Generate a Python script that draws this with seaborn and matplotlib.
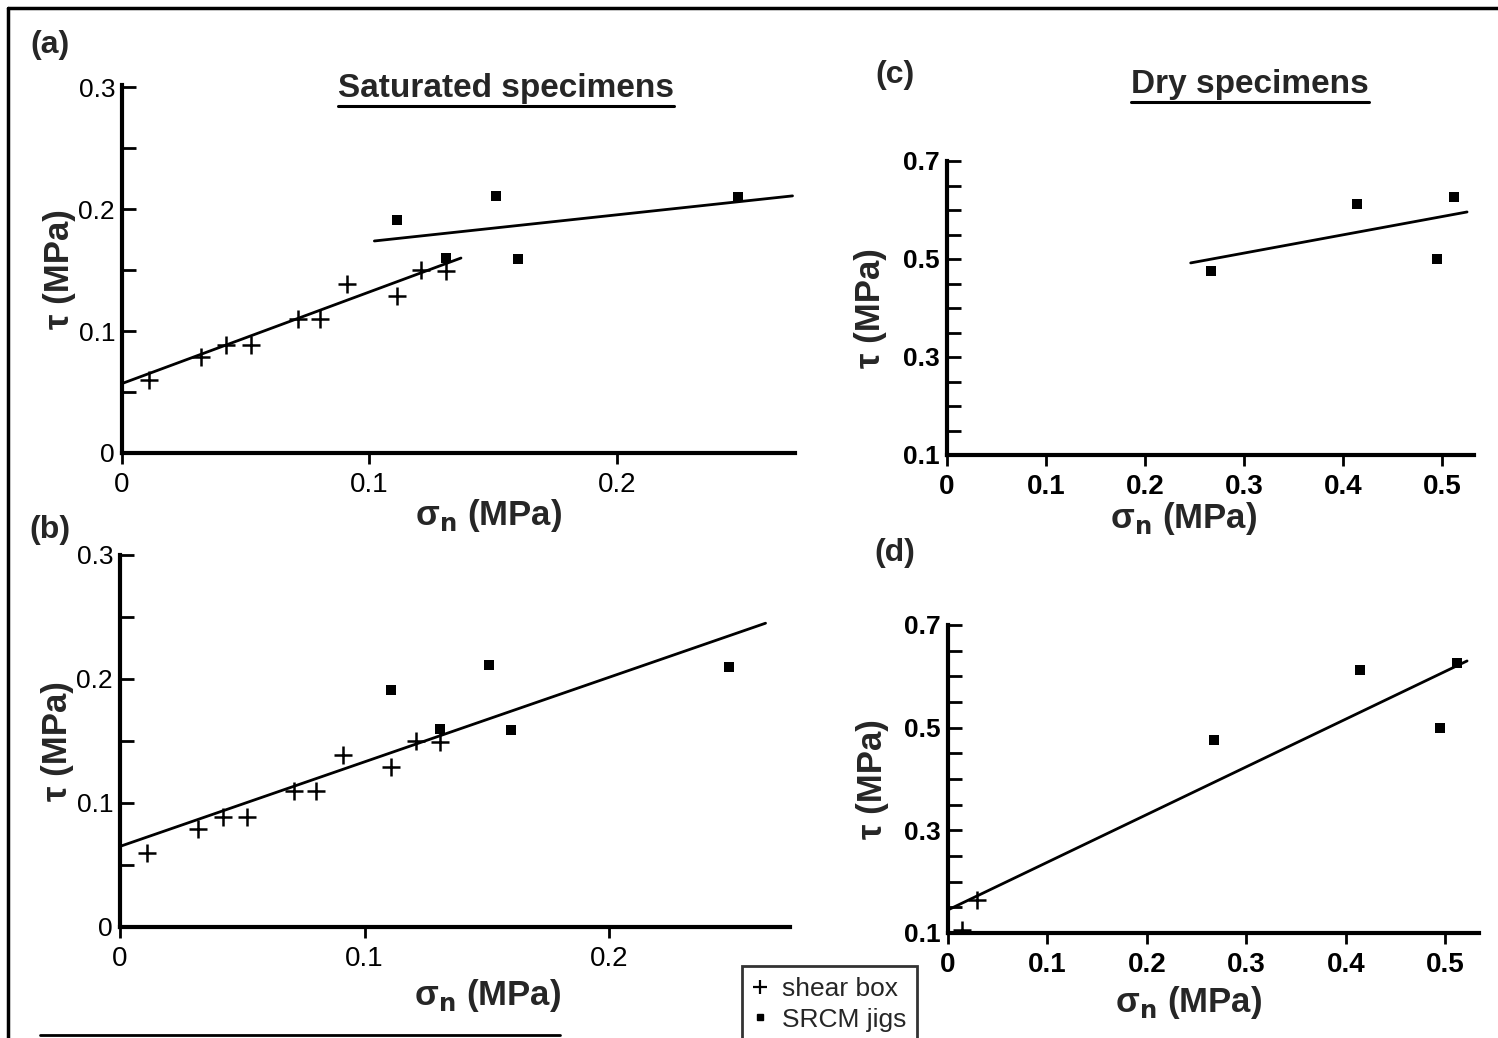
import matplotlib
matplotlib.use("Agg")
import matplotlib.pyplot as plt
from matplotlib.lines import Line2D
import seaborn as sns
import pandas as pd
import numpy as np

# ---------------- data ----------------
# saturated specimens (panels a, b)
sat_shear_sigma = [0.011, 0.032, 0.042, 0.052, 0.071, 0.080, 0.091, 0.111, 0.121, 0.131]
sat_shear_tau = [0.060, 0.079, 0.089, 0.089, 0.110, 0.110, 0.139, 0.129, 0.150, 0.149]
sat_srcm_sigma = [0.111, 0.131, 0.151, 0.160, 0.249]
sat_srcm_tau = [0.191, 0.160, 0.211, 0.159, 0.210]

# fitted lines, saturated
fit_a_shear_sigma = [0.0, 0.137]
fit_a_shear_tau = [0.057, 0.160]
fit_a_srcm_sigma = [0.102, 0.271]
fit_a_srcm_tau = [0.174, 0.211]
fit_b_sigma = [0.0, 0.264]
fit_b_tau = [0.065, 0.245]

# dry specimens (panels c, d)
dry_srcm_sigma = [0.267, 0.414, 0.495, 0.512]
dry_srcm_tau = [0.475, 0.612, 0.500, 0.626]
dry_shear_sigma = [0.014, 0.029]
dry_shear_tau = [0.106, 0.164]

fit_c_sigma = [0.246, 0.525]
fit_c_tau = [0.492, 0.596]
fit_d_sigma = [0.0, 0.522]
fit_d_tau = [0.145, 0.630]

sat_xticks = [0, 0.1, 0.2]
sat_xticklabels = ["0", "0.1", "0.2"]
sat_yticks = [0, 0.1, 0.2, 0.3]
sat_yticklabels = ["0", "0.1", "0.2", "0.3"]
dry_xticks = [0, 0.1, 0.2, 0.3, 0.4, 0.5]
dry_xticklabels = ["0", "0.1", "0.2", "0.3", "0.4", "0.5"]
dry_yticks = [0.1, 0.3, 0.5, 0.7]
dry_yticklabels = ["0.1", "0.3", "0.5", "0.7"]

# ---------------- style ----------------
sns.set_style("ticks")
NARROW = ["Liberation Sans Narrow", "DejaVu Sans Condensed", "Liberation Sans", "DejaVu Sans"]
BOLD = ["Liberation Sans", "DejaVu Sans"]
plt.rcParams["font.family"] = NARROW
plt.rcParams["mathtext.fontset"] = "dejavusans"

W, H = 1498, 1038
fig = plt.figure(figsize=(W / 100, H / 100), dpi=100)
fig.patch.set_facecolor("white")


def px_axes(l, r, b, t):
    return fig.add_axes([l / W, 1 - b / H, (r - l) / W, (b - t) / H])


ax_a = px_axes(122, 795, 453, 85)
ax_b = px_axes(120, 790, 927, 555)
ax_c = px_axes(947, 1474, 455, 161)
ax_d = px_axes(948, 1479, 933, 625)


def scatter(ax, xs, ys, marker, size, lw):
    df = pd.DataFrame({"x": xs, "y": ys})
    if marker == "+":
        sns.scatterplot(data=df, x="x", y="y", ax=ax, marker="+", s=size,
                        color="black", linewidth=lw, zorder=3, legend=False)
    else:
        sns.scatterplot(data=df, x="x", y="y", ax=ax, marker="s", s=size,
                        color="black", edgecolor="black", linewidth=0,
                        zorder=3, legend=False)


def fitline(ax, xs, ys):
    df = pd.DataFrame({"x": xs, "y": ys})
    sns.lineplot(data=df, x="x", y="y", ax=ax, color="black", linewidth=2.0,
                 zorder=2, legend=False)


# panel a
fitline(ax_a, fit_a_shear_sigma, fit_a_shear_tau)
fitline(ax_a, fit_a_srcm_sigma, fit_a_srcm_tau)
scatter(ax_a, sat_shear_sigma, sat_shear_tau, "+", 150, 1.8)
scatter(ax_a, sat_srcm_sigma, sat_srcm_tau, "s", 45, 0)

# panel b
fitline(ax_b, fit_b_sigma, fit_b_tau)
scatter(ax_b, sat_shear_sigma, sat_shear_tau, "+", 150, 1.8)
scatter(ax_b, sat_srcm_sigma, sat_srcm_tau, "s", 45, 0)

# panel c
fitline(ax_c, fit_c_sigma, fit_c_tau)
scatter(ax_c, dry_srcm_sigma, dry_srcm_tau, "s", 45, 0)

# panel d
fitline(ax_d, fit_d_sigma, fit_d_tau)
scatter(ax_d, dry_srcm_sigma, dry_srcm_tau, "s", 45, 0)
scatter(ax_d, dry_shear_sigma, dry_shear_tau, "+", 150, 1.8)


def style_axes(ax, xlim, ylim, xt, xtl, yt, ytl, yminor, bold_ticks,
               ylab_x, xlab_xy):
    ax.set_xlim(*xlim)
    ax.set_ylim(*ylim)
    for s in ["top", "right"]:
        ax.spines[s].set_visible(False)
    for s in ["left", "bottom"]:
        ax.spines[s].set_linewidth(3.0)
        ax.spines[s].set_color("black")
    ax.set_xticks(xt)
    ax.set_yticks(yt)
    ax.set_yticks(yminor, minor=True)
    fw = "bold" if bold_ticks else "normal"
    ax.set_xticklabels(xtl, fontsize=20, fontweight=fw, family=NARROW)
    ax.set_yticklabels(ytl, fontsize=19, fontweight=fw, family=NARROW)
    ax.tick_params(axis="x", direction="out", length=8, width=2.0, pad=6,
                   colors="black")
    ax.tick_params(axis="y", which="both", direction="in", length=10,
                   width=2.0, pad=4, colors="black")
    ax.tick_params(axis="y", which="major", pad=5)
    ax.set_ylabel("τ (MPa)", fontsize=25, fontweight="bold", family=BOLD)
    ax.yaxis.label.set_va("center")
    ax.yaxis.set_label_coords(ylab_x, 0.5)
    ax.set_xlabel(r"σ$_{\mathbf{n}}$ (MPa)", fontsize=25, fontweight="bold",
                  family=BOLD)
    ax.xaxis.label.set_va("center")
    ax.xaxis.set_label_coords(*xlab_xy)
    ax.set_facecolor("white")


style_axes(ax_a, (0, 0.272), (0, 0.302), sat_xticks, sat_xticklabels,
           sat_yticks, sat_yticklabels, [0.05, 0.15, 0.25], False,
           -0.093, (0.545, -0.17))
style_axes(ax_b, (0, 0.274), (0, 0.298), sat_xticks, sat_xticklabels,
           sat_yticks, sat_yticklabels, [0.05, 0.15, 0.25], False,
           -0.093, (0.548, -0.183))
dry_minor = [0.15, 0.2, 0.25, 0.35, 0.4, 0.45, 0.55, 0.6, 0.65]
style_axes(ax_c, (0, 0.532), (0.1, 0.7), dry_xticks, dry_xticklabels,
           dry_yticks, dry_yticklabels, dry_minor, True,
           -0.145, (0.448, -0.215))
style_axes(ax_d, (0, 0.534), (0.1, 0.7), dry_xticks, dry_xticklabels,
           dry_yticks, dry_yticklabels, dry_minor, True,
           -0.142, (0.452, -0.227))

# panel letters
for lab, (x, y) in {"(a)": (50, 45), "(b)": (50, 530),
                    "(c)": (895, 75), "(d)": (895, 553)}.items():
    fig.text(x / W, 1 - y / H, lab, fontsize=23, fontweight="bold",
             family=BOLD, ha="center", va="center")

# titles with underline
titles = [("Saturated specimens", 506, 88), ("Dry specimens", 1250, 84)]
title_objs = []
for txt, x, y in titles:
    t = fig.text(x / W, 1 - y / H, txt, fontsize=24, fontweight="bold",
                 family=BOLD, ha="center", va="center")
    title_objs.append(t)
fig.canvas.draw()
renderer = fig.canvas.get_renderer()
for t in title_objs:
    bb = t.get_window_extent(renderer).transformed(fig.transFigure.inverted())
    fig.add_artist(Line2D([bb.x0, bb.x1], [bb.y0 - 0.002, bb.y0 - 0.002],
                          transform=fig.transFigure, color="black", lw=2.2))

# legend
handles = [Line2D([], [], marker="+", color="black", linestyle="none",
                  markersize=10, markeredgewidth=1.6),
           Line2D([], [], marker="s", color="black", linestyle="none",
                  markersize=5)]
leg = fig.legend(handles, ["shear box", "SRCM jigs"], loc="lower left",
                 bbox_to_anchor=(742 / W, -0.004), borderaxespad=0,
                 frameon=True, fancybox=False, edgecolor="black",
                 handlelength=0.6, handletextpad=0.5, borderpad=0.4,
                 labelspacing=0.25, prop={"family": NARROW, "size": 19})
leg.get_frame().set_linewidth(2.0)

# figure frame (left and top lines, partial bottom)
fig.add_artist(Line2D([8 / W, 8 / W], [0, 1 - 8 / H], transform=fig.transFigure,
                      color="black", lw=2.5))
fig.add_artist(Line2D([8 / W, 1], [1 - 8 / H, 1 - 8 / H],
                      transform=fig.transFigure, color="black", lw=2.5))
fig.add_artist(Line2D([40 / W, 560 / W], [1 - 1035 / H, 1 - 1035 / H],
                      transform=fig.transFigure, color="black", lw=2.0))

fig.savefig("out.png", dpi=100, facecolor="white")
